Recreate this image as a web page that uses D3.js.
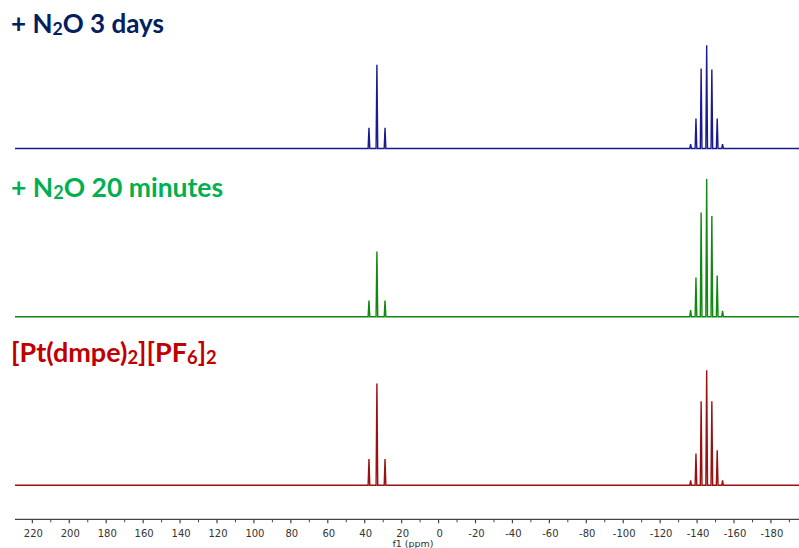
<!DOCTYPE html>
<html>
<head>
<meta charset="utf-8">
<script src="https://cdn.jsdelivr.net/npm/d3@7"></script>
<style>
  html, body { margin: 0; padding: 0; background: #fff; }
  svg { display: block; }
</style>
</head>
<body>
<svg id="chart" width="799" height="548"></svg>
<script>
// 31P NMR: [Pt(dmpe)2][PF6]2 before and after N2O exposure
const ppmTicks = [220, 200, 180, 160, 140, 120, 100, 80, 60, 40, 20, 0, -20, -40, -60, -80, -100, -120, -140, -160, -180];
const ppmMinor = [210, 190, 170, 150, 130, 110, 90, 70, 50, 30, 10, -10, -30, -50, -70, -90, -110, -130, -150, -170, -190];

// peak positions (ppm): Pt satellites + dmpe singlet, then PF6 septet
const shifts = [37.7, 33.4, 29.0, -136.5, -139.4, -142.2, -145.2, -148.0, -150.9, -153.8];

// peak intensities per spectrum (arbitrary units)
const days3     = [20.7, 83.7, 20.7, 4.3, 30.0, 80.0, 103.3, 79.0, 30.0, 4.3];
const minutes20 = [16.3, 65.3, 16.3, 6.7, 39.4, 104.4, 137.7, 100.7, 41.4, 6.0];
const start     = [26.4, 101.7, 26.4, 5.0, 31.7, 84.0, 115.0, 84.0, 35.0, 5.0];

const spectra = [
  { values: days3,     color: "#1b1b8f", titleColor: "#002060", base: 148.5, titleY: 33 },
  { values: minutes20, color: "#118811", titleColor: "#00b050", base: 316.8, titleY: 197 },
  { values: start,     color: "#991111", titleColor: "#c00000", base: 485.3, titleY: 362 }
];

const svg = d3.select("#chart");
const W = 799;

const x = d3.scaleLinear().domain([229.4, -195.2]).range([15, W]);
const halfWidth = 0.45;

spectra.forEach(s => {
  const y = d3.scaleLinear().domain([0, 140]).range([s.base, s.base - 140]);
  const pts = [[x.domain()[0], 0]];
  shifts.forEach((p, i) => {
    pts.push([p + halfWidth, 0], [p, s.values[i]], [p - halfWidth, 0]);
  });
  pts.push([x.domain()[1], 0]);
  const line = d3.line().x(d => x(d[0])).y(d => y(d[1]));
  svg.append("path")
    .attr("d", line(pts))
    .attr("fill", "none")
    .attr("stroke", s.color)
    .attr("stroke-width", 1.4)
    .attr("stroke-linejoin", "miter");
});

// titles
const titleFont = "Lato, 'Open Sans', sans-serif";
function title(y, color, size, parts) {
  const t = svg.append("text")
    .attr("x", 11).attr("y", y)
    .attr("fill", color)
    .attr("font-family", titleFont)
    .attr("font-weight", 700)
    .attr("font-size", size);
  parts.forEach(p => {
    if (p.sub) {
      t.append("tspan").attr("font-size", size * 0.68).attr("dy", 2).text(p.t);
    } else {
      t.append("tspan").attr("dy", p.after ? -2 : 0).text(p.t);
    }
  });
  return t;
}
title(spectra[0].titleY, spectra[0].titleColor, 26,
  [{ t: "+ N" }, { t: "2", sub: true }, { t: "O 3 days", after: true }]);
title(spectra[1].titleY, spectra[1].titleColor, 26.5,
  [{ t: "+ N" }, { t: "2", sub: true }, { t: "O 20 minutes", after: true }]);
title(spectra[2].titleY, spectra[2].titleColor, 27,
  [{ t: "[Pt(dmpe)" }, { t: "2", sub: true }, { t: "][PF", after: true }, { t: "6", sub: true }, { t: "]", after: true }, { t: "2", sub: true }]);

// ppm axis
const axisY = 519.3;
const axisG = svg.append("g").attr("transform", `translate(0,${axisY})`);
axisG.append("line")
  .attr("x1", 15).attr("x2", W)
  .attr("stroke", "#444").attr("stroke-width", 1.2);
axisG.selectAll(".major").data(ppmTicks).join("line")
  .attr("x1", d => x(d)).attr("x2", d => x(d))
  .attr("y1", 0).attr("y2", 4)
  .attr("stroke", "#444").attr("stroke-width", 1.2);
axisG.selectAll(".minor").data(ppmMinor).join("line")
  .attr("x1", d => x(d)).attr("x2", d => x(d))
  .attr("y1", 0).attr("y2", 3)
  .attr("stroke", "#444").attr("stroke-width", 1);
axisG.selectAll(".lbl").data(ppmTicks).join("text")
  .attr("x", d => x(d) + 1).attr("y", 18)
  .attr("text-anchor", "middle")
  .attr("font-family", "'DejaVu Sans', sans-serif")
  .attr("font-size", 10)
  .attr("fill", "#333")
  .text(d => d);
svg.append("text")
  .attr("x", 413).attr("y", 547)
  .attr("text-anchor", "middle")
  .attr("font-family", "'DejaVu Sans', sans-serif")
  .attr("font-size", 9.5)
  .attr("fill", "#333")
  .text("f1 (ppm)");
</script>
</body>
</html>
